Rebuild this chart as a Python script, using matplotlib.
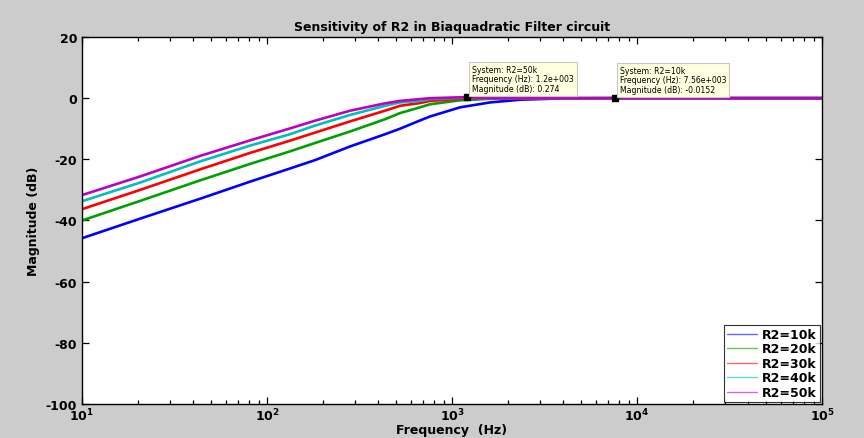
import matplotlib
matplotlib.use("Agg")
import matplotlib.pyplot as plt
from matplotlib.ticker import LogLocator

plt.rcParams["axes.unicode_minus"] = False

freq_10k = [10, 20.6, 43.4, 81, 133, 181, 281, 434, 523, 671, 760, 1105, 1603, 2334, 3838, 7560, 10000, 100000]
mag_10k = [-45.8, -39.4, -32.9, -27.3, -23.0, -20.3, -15.8, -11.8, -10.0, -7.3, -6.0, -3.0, -1.4, -0.5, -0.1, -0.0152, 0, 0]

freq_20k = [10, 20.6, 43.4, 81, 133, 181, 281, 434, 523, 671, 760, 1105, 1603, 2334, 10000, 100000]
mag_20k = [-40.0, -33.6, -26.9, -21.5, -17.4, -14.7, -10.9, -6.9, -4.9, -3.0, -2.0, -0.7, -0.2, 0, 0, 0]

freq_30k = [10, 20.6, 43.4, 81, 133, 181, 281, 434, 523, 671, 760, 1105, 1603, 10000, 100000]
mag_30k = [-36.3, -30.0, -23.3, -17.9, -13.9, -11.3, -7.6, -4.1, -2.5, -1.6, -0.9, -0.2, 0, 0, 0]

freq_40k = [10, 20.6, 43.4, 81, 133, 181, 281, 434, 523, 671, 760, 1105, 1603, 10000, 100000]
mag_40k = [-33.7, -27.6, -20.7, -15.5, -11.8, -9.0, -5.5, -2.5, -1.4, -0.9, -0.3, 0.1, 0, 0, 0]

freq_50k = [10, 20.6, 43.4, 81, 133, 181, 281, 434, 523, 671, 760, 1105, 1200, 1603, 2334, 10000, 100000]
mag_50k = [-31.7, -25.6, -18.9, -13.8, -9.9, -7.4, -4.1, -1.7, -0.9, -0.3, 0.0, 0.27, 0.274, 0.1, 0, 0, 0]

labels = ["R2=10k", "R2=20k", "R2=30k", "R2=40k", "R2=50k"]
colors = ["#0000ff", "#00a000", "#ff0000", "#00bfbf", "#bf00bf"]

tip1 = ("System: R2=50k", "1.2e+003", "0.274", 1200, 0.274)
tip2 = ("System: R2=10k", "7.56e+003", "-0.0152", 7560, -0.0152)

fig = plt.figure(figsize=(8.64, 4.39), dpi=100, facecolor="#cccccc")
ax = fig.add_axes([82/864, 1-405/439, 740/864, 367/439])
ax.set_facecolor("white")

series = [(freq_10k, mag_10k), (freq_20k, mag_20k), (freq_30k, mag_30k),
          (freq_40k, mag_40k), (freq_50k, mag_50k)]
for (f, m), lab, c in zip(series, labels, colors):
    ax.plot(f, m, color=c, lw=1.9, label=lab, solid_capstyle="round")

ax.set_xscale("log")
ax.set_xlim(10, 1e5)
ax.set_ylim(-100, 20)
ax.set_yticks([-100, -80, -60, -40, -20, 0, 20])
ax.xaxis.set_major_locator(LogLocator(base=10, numticks=10))
ax.xaxis.set_minor_locator(LogLocator(base=10, subs=range(2, 10), numticks=20))
ax.tick_params(which="both", direction="in", top=True, right=True, labelsize=9, width=0.9)
ax.tick_params(which="major", length=5)
ax.tick_params(which="minor", length=3)
ax.tick_params(axis="x", pad=2)
for lbl in ax.get_xticklabels() + ax.get_yticklabels():
    lbl.set_fontweight("bold")
for sp in ax.spines.values():
    sp.set_linewidth(1.0)

ax.set_title("Sensitivity of R2 in Biaquadratic Filter circuit", fontsize=9, fontweight="bold", pad=5)
ax.set_xlabel("Frequency  (Hz)", fontsize=9, fontweight="bold", labelpad=0)
ax.set_ylabel("Magnitude (dB)", fontsize=9, fontweight="bold", labelpad=4)

leg = ax.legend(loc="lower right", fontsize=9, frameon=True, fancybox=False,
                borderaxespad=0.15, handlelength=2.4, labelspacing=0.12,
                borderpad=0.25, handletextpad=0.4)
leg.get_frame().set_edgecolor("black")
leg.get_frame().set_linewidth(0.8)
for t in leg.get_texts():
    t.set_fontweight("bold")
for h in leg.get_lines():
    h.set_linewidth(1.0)
    h.set_alpha(0.6)

for sysname, fq, mg, x, y in (tip1, tip2):
    ax.plot([x], [y], marker="s", color="black", ms=4.5, zorder=6)
    txt = f"{sysname}\nFrequency (Hz): {fq}\nMagnitude (dB): {mg}"
    ax.annotate(txt, xy=(x, y), xytext=(4, 3), textcoords="offset points",
                ha="left", va="bottom", fontsize=5.6, linespacing=1.1,
                bbox=dict(boxstyle="square,pad=0.35", fc="#ffffe1", ec="#c8c8c8", lw=0.8),
                zorder=7)

fig.savefig("out.png", dpi=100, facecolor=fig.get_facecolor())
